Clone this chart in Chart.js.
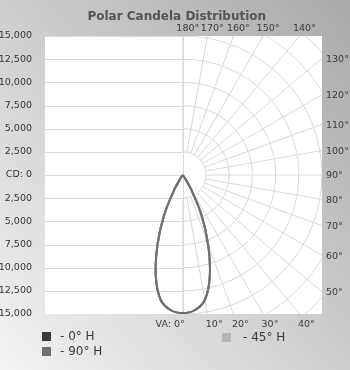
<!DOCTYPE html>
<html>
<head>
<meta charset="utf-8">
<script src="https://cdn.jsdelivr.net/npm/chart.js@4.4.1/dist/chart.umd.min.js"></script>
<style>
  html, body { margin: 0; padding: 0; }
  body {
    width: 350px; height: 370px; overflow: hidden;
    background: linear-gradient(to bottom left, #a9a9a9, #f3f3f3);
  }
  #wrap { position: relative; width: 350px; height: 370px; }
</style>
</head>
<body>
<div id="wrap"><canvas id="c" width="350" height="370"></canvas></div>
<script>
// Vertical angles, measured from nadir (degrees)
const verticalAngles = [0, 5, 10, 15, 20, 25, 30, 35, 40, 45, 50, 55, 60, 65, 70, 75, 80, 85, 90];

// Candela values for each horizontal plane
const candela0H  = [14900, 14650, 13700, 11250, 7950, 4750, 1800, 300, 0, 0, 0, 0, 0, 0, 0, 0, 0, 0, 0];
const candela45H = [14900, 14650, 13700, 11250, 7950, 4750, 1800, 300, 0, 0, 0, 0, 0, 0, 0, 0, 0, 0, 0];
const candela90H = [14900, 14650, 13700, 11250, 7950, 4750, 1800, 300, 0, 0, 0, 0, 0, 0, 0, 0, 0, 0, 0];

const planeLabels = ['- 0° H', '- 45° H', '- 90° H'];
const planeColors = ['#3a3a3a', '#b5b5b5', '#6e6e6e'];

const chartTitle = 'Polar Candela Distribution';

// Candela axis range and grid rings
const cdMax = 15000;
const cdStep = 2500;
const ringValues = [2500, 5000, 7500, 10000, 12500, 15000, 17500, 20000];

// Angle spokes of the polar grid (degrees from nadir)
const angleTicks = [0, 10, 20, 30, 40, 50, 60, 70, 80, 90, 100, 110, 120, 130, 140, 150, 160, 170, 180];

const FONT = 'DejaVu Sans';

// polar (angle from nadir, candela) -> cartesian data point; side -1 mirrors to the left
function toXY(angle, cd, side) {
  const r = angle * Math.PI / 180;
  return { x: side * cd * Math.sin(r), y: -cd * Math.cos(r) };
}

// closed teardrop: left half from 90° down to nadir, then right half back up to 90°
function buildCurve(values) {
  const pts = [];
  for (let i = verticalAngles.length - 1; i >= 0; i--) pts.push(toXY(verticalAngles[i], values[i], -1));
  for (let i = 1; i < verticalAngles.length; i++) pts.push(toXY(verticalAngles[i], values[i], 1));
  return pts;
}

const seriesValues = [candela0H, candela45H, candela90H];
const drawOrder = [2, 1, 0];

const datasets = seriesValues.map((vals, i) => ({
  label: planeLabels[i],
  data: buildCurve(vals),
  showLine: true,
  borderColor: planeColors[i],
  backgroundColor: planeColors[i],
  borderWidth: 2,
  pointRadius: 0,
  tension: 0.35,
  fill: false,
  order: drawOrder[i]
}));

const polarGrid = {
  id: 'polarGrid',
  beforeDatasetsDraw(chart) {
    const { ctx, chartArea: a, scales: { x, y } } = chart;
    const cx = x.getPixelForValue(0);
    const cy = y.getPixelForValue(0);
    ctx.save();
    ctx.fillStyle = '#ffffff';
    ctx.fillRect(a.left, a.top, a.right - a.left, a.bottom - a.top);
    ctx.beginPath();
    ctx.rect(a.left, a.top, a.right - a.left, a.bottom - a.top);
    ctx.clip();
    ctx.strokeStyle = '#d9d9d9';
    ctx.lineWidth = 1;

    // horizontal candela lines on the left half
    y.ticks.forEach(t => {
      const py = Math.round(y.getPixelForValue(t.value)) + 0.5;
      ctx.beginPath();
      ctx.moveTo(a.left, py);
      ctx.lineTo(cx, py);
      ctx.stroke();
    });

    // centre vertical line
    ctx.beginPath();
    ctx.moveTo(Math.round(cx) + 0.5, a.top);
    ctx.lineTo(Math.round(cx) + 0.5, a.bottom);
    ctx.stroke();

    // candela rings on the right half
    ringValues.forEach(v => {
      const rx = x.getPixelForValue(v) - cx;
      const ry = cy - y.getPixelForValue(v);
      ctx.beginPath();
      ctx.ellipse(cx, cy, rx, ry, 0, -Math.PI / 2, Math.PI / 2);
      ctx.stroke();
    });

    // angle spokes starting at the first ring
    angleTicks.forEach(ang => {
      const p0 = toXY(ang, ringValues[0], 1);
      const p1 = toXY(ang, cdMax * 3, 1);
      ctx.beginPath();
      ctx.moveTo(x.getPixelForValue(p0.x), y.getPixelForValue(p0.y));
      ctx.lineTo(x.getPixelForValue(p1.x), y.getPixelForValue(p1.y));
      ctx.stroke();
    });
    ctx.restore();
  },
  afterDraw(chart) {
    const { ctx, chartArea: a, scales: { x, y } } = chart;
    const cx = x.getPixelForValue(0);
    const cy = y.getPixelForValue(0);
    ctx.save();

    // title
    ctx.fillStyle = '#555555';
    ctx.font = 'bold 12px "' + FONT + '"';
    ctx.textAlign = 'center';
    ctx.textBaseline = 'middle';
    ctx.fillText(chartTitle, cx - 6, 17);

    ctx.fillStyle = '#3a3a3a';
    ctx.font = '9.5px "' + FONT + '"';

    // angle labels where each spoke meets the plot frame
    angleTicks.forEach(ang => {
      const r = ang * Math.PI / 180;
      const s = Math.sin(r), c = Math.cos(r);
      const tR = s > 1e-9 ? (a.right - cx) / s : Infinity;
      const tV = c > 1e-9 ? (a.bottom - cy) / c : (c < -1e-9 ? (cy - a.top) / -c : Infinity);
      const t = Math.min(tR, tV);
      const px = cx + t * s, py = cy + t * c;
      const txt = ang + '°';
      if (tR <= tV) {
        ctx.textAlign = 'left';
        ctx.fillText(txt, a.right + 4, py + 1);
      } else if (c > 0) {
        if (ang === 0) {
          ctx.textAlign = 'right';
          ctx.fillText('VA: ' + txt, px + 2, a.bottom + 10.5);
        } else {
          ctx.textAlign = 'left';
          ctx.fillText(txt, px - 1.5, a.bottom + 10.5);
        }
      } else {
        ctx.textAlign = 'center';
        ctx.fillText(txt, px + 5, a.top - 7);
      }
    });

    // legend
    const items = [
      { ds: 0, x: 42, y: 332, gap: 18 },
      { ds: 2, x: 42, y: 347, gap: 18 },
      { ds: 1, x: 222, y: 333, gap: 21 }
    ];
    ctx.font = '12px "' + FONT + '"';
    ctx.textAlign = 'left';
    items.forEach(it => {
      const d = chart.data.datasets[it.ds];
      ctx.fillStyle = d.borderColor;
      ctx.fillRect(it.x, it.y, 9, 9);
      ctx.fillStyle = '#3a3a3a';
      ctx.fillText(d.label, it.x + it.gap, it.y + 5);
    });
    ctx.restore();
  }
};

new Chart(document.getElementById('c'), {
  type: 'scatter',
  data: { datasets },
  options: {
    responsive: false,
    animation: false,
    layout: { padding: { left: 0, right: 28, bottom: 56, top: 36 } },
    plugins: {
      legend: { display: false },
      tooltip: { enabled: false },
      title: { display: false }
    },
    scales: {
      x: { type: 'linear', min: -14850, max: cdMax, display: false },
      y: {
        type: 'linear',
        min: -cdMax,
        max: cdMax,
        afterFit(scale) { scale.width = 45; },
        grid: { display: false },
        border: { display: false },
        ticks: {
          stepSize: cdStep,
          autoSkip: false,
          padding: 5,
          color: '#333333',
          font: { family: FONT, size: 9.5 },
          callback: v => v === 0 ? 'CD: 0' : Math.abs(v).toLocaleString('en-US')
        }
      }
    }
  },
  plugins: [polarGrid]
});
</script>
</body>
</html>
